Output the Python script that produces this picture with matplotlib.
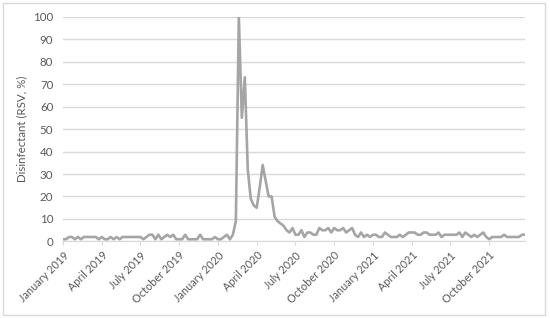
import numpy as np
import matplotlib.pyplot as plt
from matplotlib.patches import Rectangle

# weekly values, January 2019 .. December 2021
rsv = [1, 1, 2, 2, 1, 2, 1, 2, 2, 2, 2, 2, 1,
       2, 1, 1, 2, 1, 2, 1, 2, 2, 2, 2, 2, 2,
       2, 1, 2, 3, 3, 1, 3, 1, 2, 3, 2, 3, 1,
       1, 1, 3, 1, 1, 1, 1, 3, 1, 1, 1, 1, 2,
       1, 1, 2, 3, 1, 3, 9, 100, 55, 73, 32, 19, 16,
       15, 24, 34, 27, 20, 20, 11, 9, 8, 7, 5, 4, 6,
       3, 3, 5, 2, 4, 4, 3, 3, 6, 5, 5, 6, 4,
       6, 5, 5, 6, 4, 5, 6, 3, 2, 4, 2, 3, 2,
       3, 3, 2, 2, 4, 3, 2, 2, 2, 3, 2, 3, 4,
       4, 4, 3, 3, 4, 4, 3, 3, 3, 4, 2, 3, 3,
       3, 3, 3, 4, 2, 4, 3, 2, 3, 2, 3, 4, 2,
       1, 2, 2, 2, 2, 3, 2, 2, 2, 2, 2, 3, 3]

tick_labels = ["January 2019", "April 2019", "July 2019", "October 2019",
               "January 2020", "April 2020", "July 2020", "October 2020",
               "January 2021", "April 2021", "July 2021", "October 2021"]

plt.rcParams['font.family'] = ['Lato', 'DejaVu Sans']
txt = '#595959'
grid = '#d9d9d9'

fig = plt.figure(figsize=(5.5, 3.18), dpi=100)
ax = fig.add_axes([0.1145, 0.2406, 0.84, 0.7074])

x = np.arange(len(rsv))
ax.plot(x, rsv, color='#a5a5a5', lw=1.9, solid_joinstyle='round')

ax.set_xlim(0, len(rsv) - 1)
ax.set_ylim(0, 100)
ax.set_yticks(np.arange(0, 101, 10))
ax.set_xticks(np.arange(0, len(rsv), 13))
ax.set_xticklabels(tick_labels, rotation=45, ha='right', rotation_mode='anchor')

ax.grid(axis='y', color=grid, lw=1)
ax.set_axisbelow(True)
for s in ['top', 'right', 'left']:
    ax.spines[s].set_visible(False)
ax.spines['bottom'].set_color(grid)
ax.tick_params(axis='y', length=0, labelsize=8.3, labelcolor=txt, pad=7)
ax.tick_params(axis='x', length=3, color=grid, labelsize=7.8, labelcolor=txt, pad=3)

ax.set_ylabel("Disinfectant (RSV, %)", fontsize=8.3, color=txt, labelpad=4)

fig.patches.append(Rectangle((0.006, 0.01), 0.985, 0.98, transform=fig.transFigure,
                             fill=False, edgecolor=grid, lw=1))

fig.savefig('out.png', dpi=100)
